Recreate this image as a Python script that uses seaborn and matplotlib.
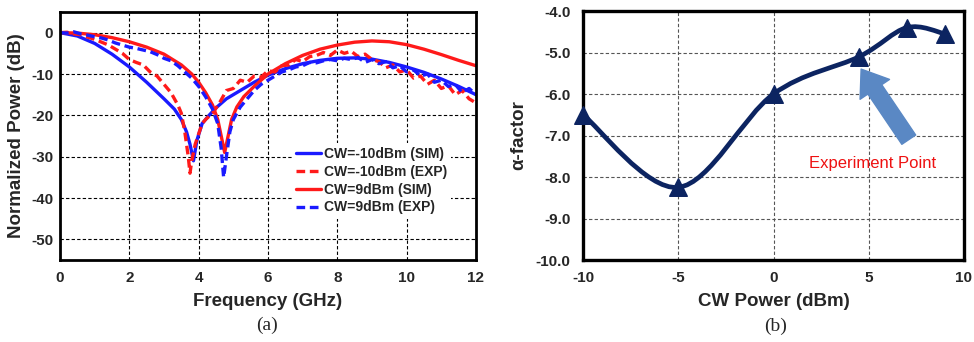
import numpy as np
import pandas as pd
import matplotlib
matplotlib.use("Agg")
import matplotlib.pyplot as plt
import seaborn as sns
from matplotlib.path import Path
from matplotlib.patches import PathPatch

# ---------------- data: panel (a) ----------------
f_sim_m10 = [0, 0.5, 1, 1.5, 2, 2.5, 3, 3.3, 3.5, 3.65, 3.75, 3.85, 3.95, 4.1, 4.3, 4.5,
             4.8, 5.2, 5.6, 6, 6.5, 7, 7.5, 8, 8.5, 9, 9.5, 10, 10.5, 11, 11.5, 12]
p_sim_m10 = [0, -0.8, -2.6, -5.2, -8.3, -12, -16, -18.5, -21, -24, -27, -31, -26, -22, -20, -18.2,
             -16, -14, -12, -10.3, -8.7, -7.5, -6.7, -6.2, -6.1, -6.4, -7.2, -8.3, -9.6, -11.2, -13, -15]

f_exp_m10 = [0, 0.2, 0.4, 0.6, 0.8, 1.0, 1.2, 1.4, 1.6, 1.8, 2.0, 2.2, 2.4, 2.6, 2.8, 3.0,
             3.2, 3.4, 3.5, 3.6, 3.7, 3.75, 3.8, 3.9, 4.0, 4.1, 4.2, 4.4, 4.6, 4.8, 5.0,
             5.2, 5.4, 5.6, 5.8, 6.0, 6.2, 6.4, 6.6, 6.8, 7.0, 7.2, 7.4, 7.6, 7.8, 8.0,
             8.2, 8.4, 8.6, 8.8, 9.0, 9.2, 9.4, 9.6, 9.8, 10.0, 10.2, 10.4, 10.6, 10.8,
             11.0, 11.2, 11.4, 11.6, 11.8, 12.0]
p_exp_m10 = [0, 0.1, -0.3, -0.5, -1.1, -1.6, -2.3, -3.0, -4.0, -5.0, -6.5, -7.2, -7.8, -9.5, -10.5, -12.5,
             -14.5, -17.5, -19.5, -24, -30, -34, -31, -27, -24.5, -22, -21, -19.5, -17, -14, -13.5,
             -11.5, -12, -10.5, -10.8, -9.2, -9.5, -8, -7.8, -6.5, -7, -5.8, -5.5, -4.8, -5.5, -4.2,
             -5, -4.5, -5.8, -5.2, -6.5, -7, -8.5, -7.8, -9.5, -9, -11, -10.5, -12.5, -11.5,
             -13.5, -12.8, -15, -14, -16, -17]

f_sim_9 = [0, 0.5, 1, 1.5, 2, 2.5, 3, 3.5, 3.8, 4, 4.2, 4.4, 4.55, 4.65, 4.75, 4.85, 4.95,
           5.1, 5.3, 5.6, 6, 6.5, 7, 7.5, 8, 8.5, 9, 9.5, 10, 10.5, 11, 11.5, 12]
p_sim_9 = [0, -0.1, -0.5, -1.2, -2.2, -3.5, -5.2, -7.8, -10, -12, -14.5, -17.5, -21, -25, -29, -25, -21,
           -18, -15.5, -13, -10, -7.5, -5.5, -4, -3, -2.3, -2, -2.2, -2.9, -4, -5.3, -6.7, -8]

f_exp_9 = [0, 0.2, 0.4, 0.6, 0.8, 1.0, 1.2, 1.4, 1.6, 1.8, 2.0, 2.2, 2.4, 2.6, 2.8, 3.0,
           3.2, 3.4, 3.6, 3.8, 4.0, 4.2, 4.4, 4.55, 4.65, 4.72, 4.8, 4.9, 5.0, 5.2, 5.4,
           5.6, 5.8, 6.0, 6.2, 6.4, 6.6, 6.8, 7.0, 7.2, 7.4, 7.6, 7.8, 8.0, 8.2, 8.4,
           8.6, 8.8, 9.0, 9.2, 9.4, 9.6, 9.8, 10.0, 10.2, 10.4, 10.6, 10.8, 11.0, 11.2,
           11.4, 11.6, 11.8, 12.0]
p_exp_9 = [0, -0.1, 0.2, -0.3, -0.6, -1.0, -1.3, -1.8, -2.5, -3.0, -3.5, -3.8, -4.2, -4.6, -5.3, -6.2,
           -6.8, -8, -9.5, -11, -13, -15.5, -18.5, -22, -28, -35, -30, -24, -21, -18, -16,
           -14, -12.5, -11.5, -10.5, -9.5, -9.0, -8.3, -8.0, -7.2, -7.3, -6.8, -6.5, -6.8, -6.2, -6.5,
           -6.0, -7.2, -6.5, -7.5, -7.0, -8.5, -8.0, -9.5, -9, -10.5, -10.0, -12, -11.5, -13,
           -12.5, -14.5, -13.5, -15]

legend_labels = ["CW=-10dBm (SIM)", "CW=-10dBm (EXP)", "CW=9dBm (SIM)", "CW=9dBm (EXP)"]

# ---------------- data: panel (b) ----------------
cw_power = [-10, -5, 0, 4.5, 7, 9]
alpha_factor = [-6.5, -8.25, -6.0, -5.1, -4.4, -4.55]

# ---------------- style ----------------
sns.set_style("white")
plt.rcParams["font.family"] = ["Liberation Sans", "DejaVu Sans"]
plt.rcParams["axes.unicode_minus"] = False

fig = plt.figure(figsize=(9.74, 3.42), dpi=100)
axA = fig.add_axes([60 / 974, 82 / 342, 416 / 974, 248 / 342])
axB = fig.add_axes([583 / 974, 82 / 342, 381 / 974, 249 / 342])

BLUE = "#1a1aff"
RED = "#ff1a1a"
lw = 2.4
series = [
    (f_sim_m10, p_sim_m10, BLUE, "-"),
    (f_exp_m10, p_exp_m10, RED, "--"),
    (f_sim_9, p_sim_9, RED, "-"),
    (f_exp_9, p_exp_9, BLUE, "--"),
]
handles = []
for (fx, py, c, ls), lab in zip(series, legend_labels):
    df = pd.DataFrame({"f": fx, "p": py})
    sns.lineplot(data=df, x="f", y="p", ax=axA, color=c, lw=lw, sort=False,
                 estimator=None)
    ln = axA.lines[-1]
    if ls == "--":
        ln.set_dashes((2.6, 1.4))
    ln.set_label(lab)
    handles.append(ln)

axA.set_xlim(0, 12)
axA.set_ylim(-55, 5)
axA.set_xticks(np.arange(0, 13, 2))
axA.set_yticks(np.arange(-50, 1, 10))
axA.grid(True, color="black", ls=(0, (3, 2)), lw=0.8)
for s in axA.spines.values():
    s.set_linewidth(2.0)
    s.set_color("black")
axA.tick_params(length=0, labelsize=11, pad=5)
axA.tick_params(axis="x", pad=8)
for t in axA.get_xticklabels() + axA.get_yticklabels():
    t.set_fontweight("bold")
axA.set_xlabel("Frequency (GHz)", fontsize=13.5, fontweight="bold", labelpad=6)
axA.set_ylabel("Normalized Power (dB)", fontsize=13.5, fontweight="bold", labelpad=4)
leg = axA.legend(handles=handles, loc="center left", bbox_to_anchor=(0.54, 0.32),
                 frameon=True, fancybox=False, framealpha=1, edgecolor="white",
                 prop={"weight": "bold", "size": 10}, handlelength=1.8,
                 handletextpad=0.2, labelspacing=0.28, borderpad=0.3)
leg.get_frame().set_linewidth(0)

# ---------------- panel (b) ----------------
NAVY = "#0c2461"
pts = np.column_stack([cw_power, alpha_factor])
ext = np.vstack([pts[0], pts, pts[-1]])
verts = [tuple(pts[0])]
codes = [Path.MOVETO]
for i in range(1, len(ext) - 2):
    p0, p1, p2, p3 = ext[i - 1], ext[i], ext[i + 1], ext[i + 2]
    c1 = p1 + (p2 - p0) / 6.0
    c2 = p2 - (p3 - p1) / 6.0
    verts += [tuple(c1), tuple(c2), tuple(p2)]
    codes += [Path.CURVE4] * 3
axB.add_patch(PathPatch(Path(verts, codes), facecolor="none", edgecolor=NAVY,
                        lw=3.4, zorder=3, capstyle="round"))
sns.scatterplot(x=cw_power, y=alpha_factor, ax=axB, marker="^", s=160,
                color=NAVY, edgecolor=NAVY, zorder=4, clip_on=False)

axB.set_xlim(-10, 10)
axB.set_ylim(-10, -4)
axB.set_xticks([-10, -5, 0, 5, 10])
axB.set_yticks(np.arange(-10, -3.9, 1.0))
axB.set_yticklabels([f"{v:.1f}" for v in np.arange(-10, -3.9, 1.0)])
axB.grid(True, color="#555555", ls=(0, (3, 2)), lw=0.8)
for s in axB.spines.values():
    s.set_linewidth(2.4)
    s.set_color("black")
axB.tick_params(length=0, labelsize=11, pad=9)
axB.tick_params(axis="x", pad=8)
for t in axB.get_xticklabels() + axB.get_yticklabels():
    t.set_fontweight("bold")
axB.set_xlabel("CW Power (dBm)", fontsize=13.5, fontweight="bold", labelpad=6)
axB.set_ylabel("α-factor", fontsize=13.5, fontweight="bold", labelpad=6)

axB.annotate("", xy=(4.6, -5.4), xytext=(7.1, -7.1),
             arrowprops=dict(arrowstyle="simple,head_width=1.6,head_length=1.1,tail_width=0.75",
                             color="#5a88c4", mutation_scale=16, shrinkA=0, shrinkB=0),
             zorder=5)
axB.text(5.2, -7.68, "Experiment Point", color="#ee1111", fontsize=12,
         ha="center", va="center", zorder=5)

# captions
fig.text(267 / 974, 1 - 325 / 342, "(a)", fontsize=14, family=["Liberation Serif", "DejaVu Serif"],
         ha="center", va="center")
fig.text(776 / 974, 1 - 326 / 342, "(b)", fontsize=14, family=["Liberation Serif", "DejaVu Serif"],
         ha="center", va="center")

fig.savefig("out.png", dpi=100)
